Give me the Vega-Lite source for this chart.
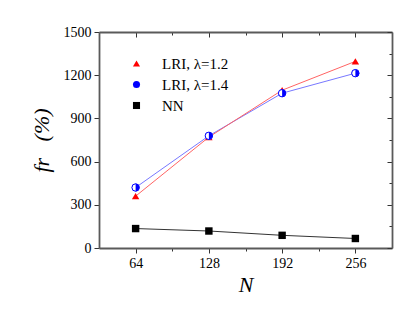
{
  "$schema": "https://vega.github.io/schema/vega-lite/v6.json",
  "width": 293,
  "height": 216,
  "autosize": "none",
  "padding": {"left": 99, "top": 32, "right": 23, "bottom": 68},
  "background": "white",
  "config": {
    "view": {"stroke": null},
    "font": "Liberation Serif",
    "axis": {
      "grid": false,
      "domainColor": "#5a5a5a",
      "domainWidth": 1.8,
      "tickColor": "#333333",
      "tickWidth": 1,
      "labelFont": "Liberation Serif",
      "labelFontSize": 14,
      "labelColor": "black",
      "titleFont": "Liberation Serif",
      "titleFontStyle": "italic",
      "titleFontWeight": "normal",
      "titleFontSize": 22,
      "titleColor": "black"
    },
    "legend": {
      "labelFont": "Liberation Serif",
      "labelFontSize": 15,
      "labelColor": "black"
    }
  },
  "data": {
    "values": [
      {"N": 64, "fr": 360, "s": "LRI, λ=1.2"},
      {"N": 128, "fr": 770, "s": "LRI, λ=1.2"},
      {"N": 192, "fr": 1096, "s": "LRI, λ=1.2"},
      {"N": 256, "fr": 1296, "s": "LRI, λ=1.2"},
      {"N": 64, "fr": 420, "s": "LRI, λ=1.4"},
      {"N": 128, "fr": 779, "s": "LRI, λ=1.4"},
      {"N": 192, "fr": 1075, "s": "LRI, λ=1.4"},
      {"N": 256, "fr": 1214, "s": "LRI, λ=1.4"},
      {"N": 64, "fr": 135, "s": "NN"},
      {"N": 128, "fr": 118, "s": "NN"},
      {"N": 192, "fr": 88, "s": "NN"},
      {"N": 256, "fr": 66, "s": "NN"}
    ]
  },
  "resolve": {"axis": {"x": "independent", "y": "independent"}},
  "layer": [
    {
      "layer": [
        {
          "transform": [{"filter": "datum.s === 'NN'"}],
          "mark": {"type": "line", "strokeWidth": 1, "stroke": "#333333"},
          "encoding": {
            "x": {
              "field": "N", "type": "quantitative",
              "scale": {"domain": [32, 288], "nice": false, "zero": false},
              "axis": {
                "orient": "bottom",
                "values": [64, 96, 128, 160, 192, 224, 256],
                "labelExpr": "datum.value % 64 === 0 ? datum.label : ''",
                "tickSize": {"condition": {"test": "datum.value % 64 === 0", "value": 5}, "value": 3},
                "labelPadding": 3,
                "title": "N",
                "titlePadding": 4
              }
            },
            "y": {
              "field": "fr", "type": "quantitative",
              "scale": {"domain": [0, 1500], "nice": false},
              "axis": {
                "orient": "left",
                "values": [0, 150, 300, 450, 600, 750, 900, 1050, 1200, 1350, 1500],
                "format": "d",
                "labelExpr": "datum.value % 300 === 0 ? datum.label : ''",
                "tickSize": {"condition": {"test": "datum.value % 300 === 0", "value": 5}, "value": 3},
                "labelPadding": 3,
                "title": "fr\u00a0\u00a0\u00a0(%)",
                "titlePadding": 10
              }
            }
          }
        },
        {
          "transform": [{"filter": "datum.s === 'LRI, λ=1.4'"}],
          "mark": {"type": "line", "strokeWidth": 1, "stroke": "#7878ff"},
          "encoding": {
            "x": {"field": "N", "type": "quantitative"},
            "y": {"field": "fr", "type": "quantitative"}
          }
        },
        {
          "transform": [{"filter": "datum.s === 'LRI, λ=1.2'"}],
          "mark": {"type": "line", "strokeWidth": 1, "stroke": "#ff6464"},
          "encoding": {
            "x": {"field": "N", "type": "quantitative"},
            "y": {"field": "fr", "type": "quantitative"}
          }
        },
        {
          "mark": {"type": "point", "filled": true, "size": 55, "opacity": 1},
          "encoding": {
            "x": {"field": "N", "type": "quantitative"},
            "y": {"field": "fr", "type": "quantitative"},
            "fill": {
              "field": "s", "type": "nominal",
              "scale": {"domain": ["LRI, λ=1.2", "LRI, λ=1.4", "NN"], "range": ["#ff0000", "#0000ff", "#000000"]},
              "legend": {
                "orient": "none", "legendX": 30, "legendY": 24, "title": null,
                "rowPadding": 5, "labelOffset": 18, "symbolSize": 50, "padding": 0
              }
            },
            "shape": {
              "field": "s", "type": "nominal",
              "scale": {"domain": ["LRI, λ=1.2", "LRI, λ=1.4", "NN"], "range": ["triangle-up", "circle", "square"]},
              "legend": {
                "orient": "none", "legendX": 30, "legendY": 24, "title": null,
                "rowPadding": 5, "labelOffset": 18, "symbolSize": 50, "padding": 0
              }
            }
          }
        },
        {
          "transform": [{"filter": "datum.s === 'LRI, λ=1.4'"}],
          "mark": {"type": "point", "shape": "circle", "size": 55, "fill": "white", "stroke": "#0000ff", "strokeWidth": 1, "opacity": 1},
          "encoding": {
            "x": {"field": "N", "type": "quantitative"},
            "y": {"field": "fr", "type": "quantitative"}
          }
        },
        {
          "transform": [{"filter": "datum.s === 'LRI, λ=1.4'"}],
          "mark": {"type": "point", "shape": "M0,-1 A1,1 0 0,1 0,1 Z", "size": 55, "filled": true, "fill": "#0000ff", "opacity": 1},
          "encoding": {
            "x": {"field": "N", "type": "quantitative"},
            "y": {"field": "fr", "type": "quantitative"}
          }
        }
      ]
    },
    {
      "mark": {"type": "point", "opacity": 0},
      "encoding": {
        "x": {
          "field": "N", "type": "quantitative",
          "axis": {
            "orient": "top", "labels": false, "title": null,
            "values": [64, 96, 128, 160, 192, 224, 256],
            "tickSize": {"condition": {"test": "datum.value % 64 === 0", "value": -5}, "value": -3}
          }
        },
        "y": {
          "field": "fr", "type": "quantitative",
          "axis": {
            "orient": "right", "labels": false, "title": null,
            "values": [0, 150, 300, 450, 600, 750, 900, 1050, 1200, 1350, 1500],
            "tickSize": {"condition": {"test": "datum.value % 300 === 0", "value": -5}, "value": -3}
          }
        }
      }
    }
  ]
}
